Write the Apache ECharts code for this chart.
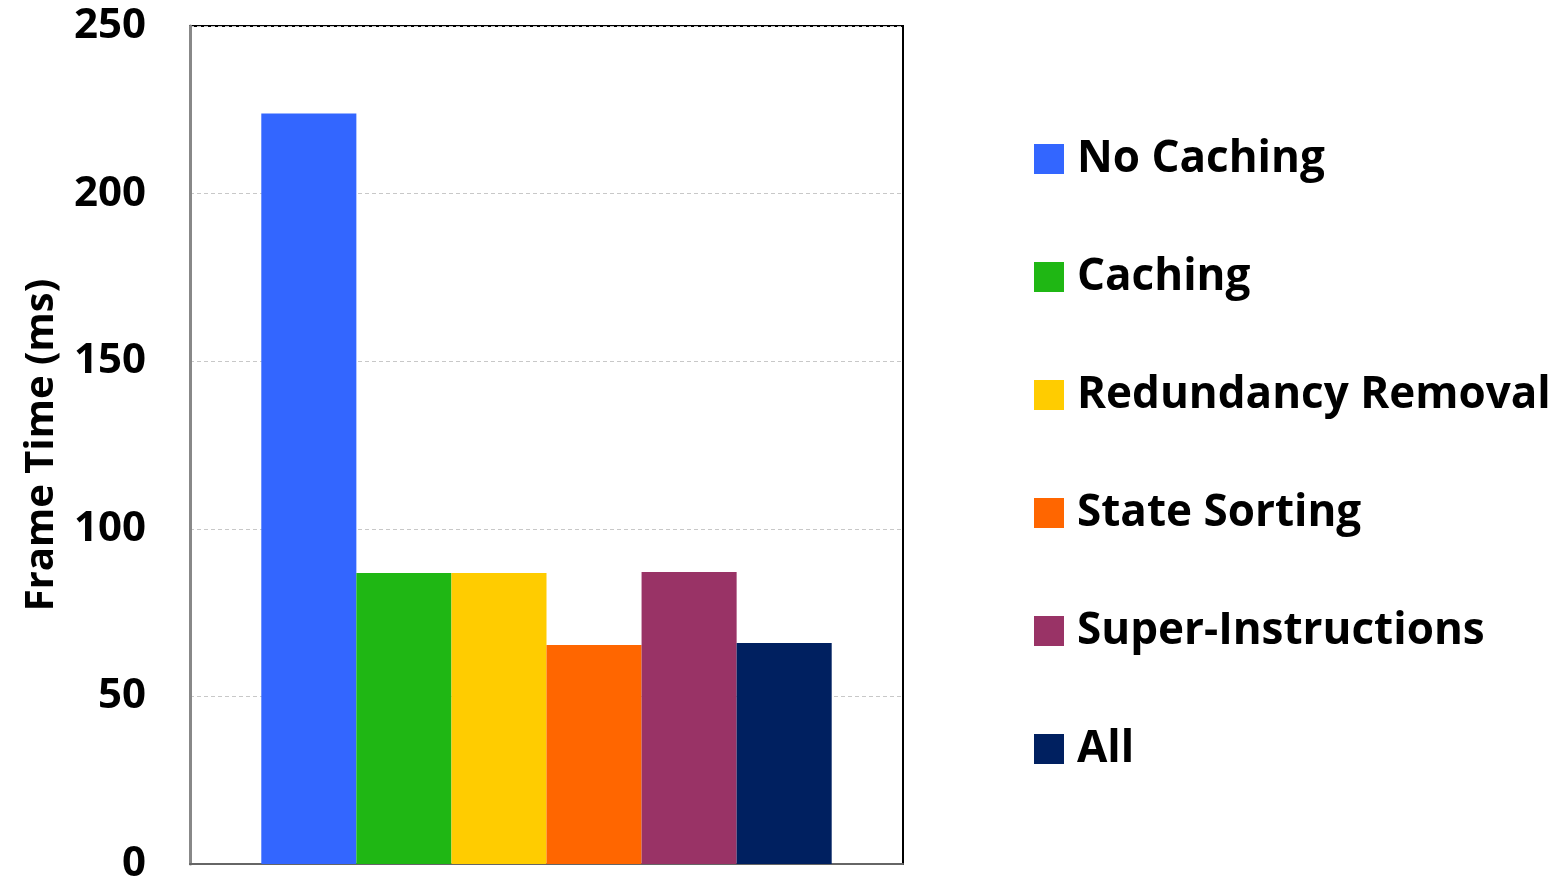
<!DOCTYPE html>
<html>
<head>
<meta charset="utf-8">
<script src="https://cdn.jsdelivr.net/npm/echarts@6/dist/echarts.min.js"></script>
<style>
  html, body { margin: 0; padding: 0; background: #fff; }
  #chart { width: 1561px; height: 881px; }
</style>
</head>
<body>
<div id="chart"></div>
<script>
// Frame time per rendering configuration (ms)
const seriesNames = ['No Caching', 'Caching', 'Redundancy Removal', 'State Sorting', 'Super-Instructions', 'All'];
const frameTimes = [223.9, 86.8, 86.8, 65.3, 87.1, 65.9];
const seriesColors = ['#3366FF', '#1FB714', '#FFCC00', '#FF6600', '#993366', '#002060'];
const categories = [''];
const yTicks = { min: 0, max: 250, interval: 50 };

const FONT = '"Open Sans", "Liberation Sans", sans-serif';

const chart = echarts.init(document.getElementById('chart'), null, { renderer: 'canvas' });

chart.setOption({
  animation: false,
  backgroundColor: '#ffffff',
  textStyle: { fontFamily: FONT },
  grid: {
    left: 190, right: 658, top: 26, bottom: 17,
    outerBoundsMode: 'none',
    containLabel: false,
    show: true, borderColor: '#000', borderWidth: 2, backgroundColor: 'transparent'
  },
  legend: {
    orient: 'vertical',
    left: 1034, top: 134,
    padding: 0,
    itemWidth: 30, itemHeight: 30,
    itemGap: 68,
    icon: 'rect',
    textStyle: { fontFamily: FONT, fontWeight: 'bold', fontSize: 44, color: '#000', lineHeight: 50, padding: [0, 0, 0, 8] },
    data: seriesNames
  },
  xAxis: {
    type: 'category',
    data: categories,
    axisLine: { show: true, lineStyle: { color: '#666', width: 2 } },
    axisTick: { show: false },
    axisLabel: { show: false }
  },
  yAxis: {
    type: 'value',
    min: yTicks.min, max: yTicks.max, interval: yTicks.interval,
    name: 'Frame Time (ms)',
    nameLocation: 'middle',
    nameGap: 128,
    nameRotate: 90,
    nameTextStyle: { fontFamily: FONT, fontWeight: 'bold', fontSize: 40, color: '#000' },
    axisLine: { show: true, lineStyle: { color: '#888', width: 3 } },
    axisTick: { show: false },
    axisLabel: { fontFamily: FONT, fontWeight: 'bold', fontSize: 42, color: '#000', margin: 44 },
    splitLine: { show: true, lineStyle: { color: '#c8c8c8', width: 1, type: [4, 3] } }
  },
  series: seriesNames.map((name, i) => ({
    name: name,
    type: 'bar',
    data: [frameTimes[i]],
    barGap: '0%',
    barCategoryGap: '20%',
    itemStyle: { color: seriesColors[i] }
  }))
});
</script>
</body>
</html>
